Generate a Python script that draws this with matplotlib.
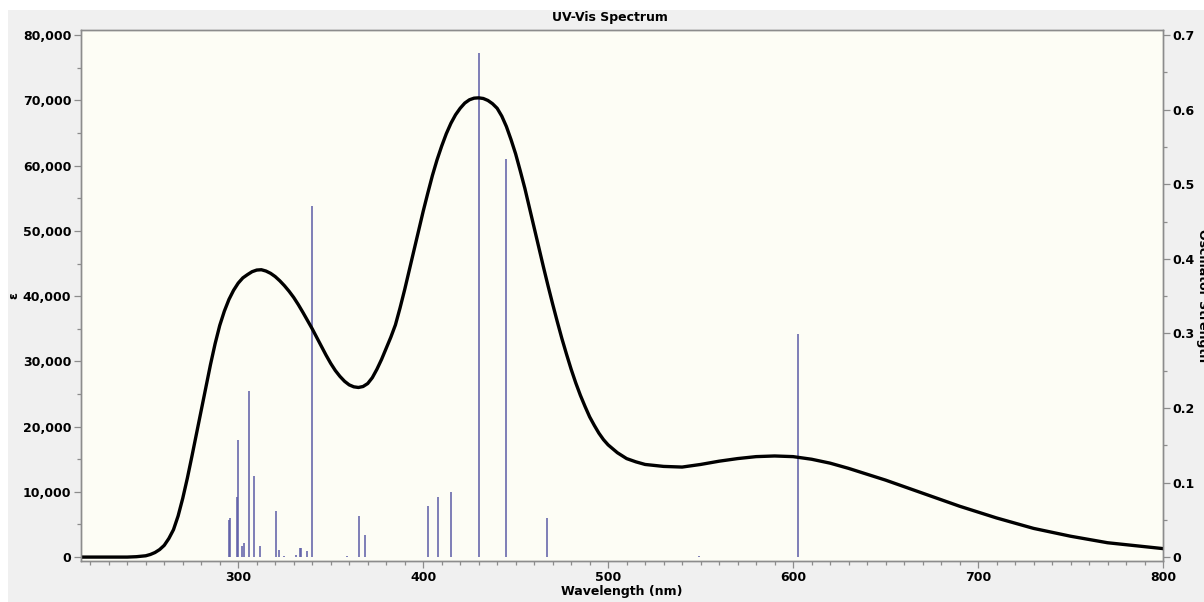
import matplotlib
matplotlib.use('Agg')
import matplotlib.pyplot as plt
import matplotlib.ticker as ticker
from matplotlib.patches import Rectangle

plt.rcParams['font.family'] = 'DejaVu Sans'
plt.rcParams['font.weight'] = 'bold'
fontsize = 9

# Broadened spectrum (epsilon)
wavelength = [215, 240, 245, 250, 252.5, 255, 257.5, 260, 262.5, 265, 267.5, 270, 272.5, 275,
              277.5, 280, 282.5, 285, 287.5, 290, 292.5, 295, 297.5, 300, 302.5, 305, 307.5,
              310, 312.5, 315, 317.5, 320, 322.5, 325, 327.5, 330, 332.5, 335, 337.5, 340,
              342.5, 345, 347.5, 350, 352.5, 355, 357.5, 360, 362.5, 365, 367.5, 370, 372.5,
              375, 377.5, 380, 382.5, 385, 387.5, 390, 392.5, 395, 397.5, 400, 402.5, 405,
              407.5, 410, 412.5, 415, 417.5, 420, 422.5, 425, 427.5, 430, 432.5, 435, 437.5,
              440, 442.5, 445, 447.5, 450, 452.5, 455, 457.5, 460, 462.5, 465, 467.5, 470,
              472.5, 475, 477.5, 480, 482.5, 485, 487.5, 490, 492.5, 495, 497.5, 500, 505,
              510, 515, 520, 530, 540, 550, 560, 570, 580, 590, 600, 610, 620, 630, 640, 650,
              660, 670, 680, 690, 700, 710, 720, 730, 740, 750, 760, 770, 780, 790, 800]
epsilon = [0, 0, 60, 200, 400, 700, 1150, 1800, 2850, 4200, 6300, 9000, 12100, 15500,
           19000, 22500, 26000, 29500, 32700, 35500, 37700, 39500, 40900, 42000, 42800, 43300, 43750,
           44000, 44050, 43850, 43500, 43000, 42350, 41600, 40750, 39800, 38700, 37500, 36250, 35000,
           33650, 32300, 30950, 29700, 28600, 27700, 26950, 26400, 26100, 26000, 26150, 26600, 27500,
           28800, 30300, 32000, 33700, 35600, 38200, 41000, 44000, 47000, 50000, 53000, 55800, 58500,
           60900, 63000, 64900, 66500, 67800, 68800, 69600, 70100, 70350, 70400, 70300, 70000, 69500,
           68800, 67600, 66000, 64000, 61800, 59200, 56500, 53500, 50500, 47500, 44500, 41600, 38800,
           36100, 33500, 31100, 28800, 26700, 24800, 23100, 21500, 20200, 19000, 18000, 17200, 16000,
           15100, 14600, 14200, 13900, 13800, 14200, 14700, 15100, 15400, 15500, 15400, 15000, 14400, 13600, 12700, 11800,
           10800, 9800, 8800, 7800, 6900, 6000, 5200, 4400, 3800, 3200, 2700, 2200, 1900, 1600, 1300]

# Excitations (nm) and oscillator strengths
stick_nm = [295.0, 295.7, 299.5, 300.0, 302.0, 303.1, 305.8, 308.7, 311.9, 320.6, 321.9, 324.6,
            331.4, 333.2, 333.7, 337.2, 339.9, 358.9, 365.4, 368.8, 402.8, 408.0, 414.8, 430.2,
            445.0, 466.8, 549.0, 602.8]
stick_f = [0.050, 0.053, 0.080, 0.157, 0.015, 0.019, 0.223, 0.109, 0.015, 0.062, 0.009, 0.002,
           0.003, 0.012, 0.012, 0.008, 0.471, 0.001, 0.055, 0.029, 0.068, 0.081, 0.087, 0.676,
           0.534, 0.053, 0.002, 0.299]

W, H = 1204, 602
fig = plt.figure(figsize=(12.04, 6.02), dpi=100, facecolor='white')
fig.patches.append(Rectangle((8 / W, 0), 1, 1 - 10 / H, transform=fig.transFigure,
                             facecolor='#f0f0f0', edgecolor='none', zorder=-10))

left, right, top, bottom = 81 / W, 1163 / W, 1 - 30 / H, 1 - 561 / H
ax = fig.add_axes([left, bottom, right - left, top - bottom])
ax2 = ax.twinx()

# sticks behind the curve
ax.set_zorder(ax2.get_zorder() + 1)
ax.patch.set_visible(False)
ax2.patch.set_visible(True)
ax2.patch.set_facecolor('#fdfdf5')

ax2.vlines(stick_nm, 0, stick_f, color='#5c5ca6', linewidth=1.1)
ax.plot(wavelength, epsilon, color='black', linewidth=2.4, solid_capstyle='round',
        solid_joinstyle='round')

ymin, ymax = -600, 80800
ax.set_ylim(ymin, ymax)
ax2.set_ylim(ymin * 0.7 / 80000, ymax * 0.7 / 80000)
ax.set_xlim(215, 800)

ax.xaxis.set_major_locator(ticker.MultipleLocator(100))
ax.xaxis.set_minor_locator(ticker.MultipleLocator(10))
ax.yaxis.set_major_locator(ticker.MultipleLocator(10000))
ax.yaxis.set_minor_locator(ticker.MultipleLocator(5000))
ax.yaxis.set_major_formatter(ticker.FuncFormatter(lambda v, pos: f'{int(v):,}'))
ax2.yaxis.set_major_locator(ticker.MultipleLocator(0.1))
ax2.yaxis.set_minor_locator(ticker.MultipleLocator(0.05))
ax2.yaxis.set_major_formatter(ticker.FuncFormatter(lambda v, pos: '0' if abs(v) < 1e-9 else f'{v:.1f}'))

spine_col = '#8c8c8c'
for a in (ax, ax2):
    for s in a.spines.values():
        s.set_color(spine_col)
        s.set_linewidth(1.0)
    a.tick_params(which='major', length=5, width=0.9, color=spine_col, labelsize=fontsize, pad=2)
    a.tick_params(which='minor', length=3, width=0.9, color=spine_col)
    for lab in a.get_xticklabels() + a.get_yticklabels():
        lab.set_fontweight('bold')

ax.set_xlabel('Wavelength (nm)', fontsize=fontsize, fontweight='bold', labelpad=1)
fig.text(14 / W, 0.509, 'ε', fontsize=fontsize, fontweight='bold', rotation=90, ha='center', va='center')
# the reference shows this label partly cut by the right edge
fig.text(1203 / W, 0.509, 'Oscillator Strength', fontsize=fontsize, fontweight='bold',
         rotation=270, ha='center', va='center')
fig.text(610 / W, 1 - 18 / H, 'UV-Vis Spectrum', fontsize=fontsize, fontweight='bold',
         ha='center', va='center')

plt.savefig('out.png', dpi=100, facecolor=fig.get_facecolor())
